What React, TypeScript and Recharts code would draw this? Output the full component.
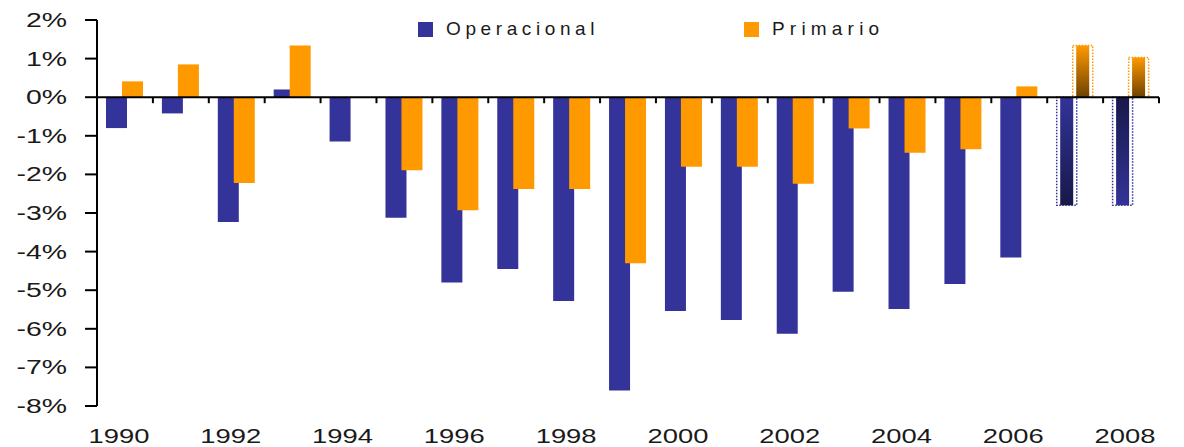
import { BarChart, Bar, XAxis, YAxis, ReferenceLine, Legend, Rectangle } from 'recharts';

const YEARS = ['1990', '1991', '1992', '1993', '1994', '1995', '1996', '1997', '1998', '1999', '2000', '2001', '2002', '2003', '2004', '2005', '2006', '2007', '2008'];
const OPERACIONAL = [-0.8, -0.42, -3.23, 0.2, -1.15, -3.12, -4.8, -4.45, -5.28, -7.6, -5.54, -5.77, -6.13, -5.04, -5.49, -4.84, -4.15, -2.8, -2.8];
const PRIMARIO = [0.41, 0.85, -2.22, 1.34, null, -1.89, -2.93, -2.38, -2.38, -4.3, -1.8, -1.8, -2.24, -0.81, -1.44, -1.35, 0.28, 1.34, 1.03];
const Y_TICKS = [2, 1, 0, -1, -2, -3, -4, -5, -6, -7, -8];
// 2007-2008 are projections, drawn with gradient + dotted outline
const PROJECTED = ['2007', '2008'];

const BLUE = '#333399';
const ORANGE = '#ff9900';
const FONT = '"Liberation Sans", Arial, sans-serif';

const data = YEARS.map((year, i) => ({ year, operacional: OPERACIONAL[i], primario: PRIMARIO[i] }));

function projectedShape(color: string, gradId: (year: string) => string) {
  return (props: any) => {
    const { x, y, width, height, payload } = props;
    if (!PROJECTED.includes(payload.year)) {
      return <Rectangle x={x} y={y} width={width} height={height} fill={color} />;
    }
    const top = height < 0 ? y + height : y;
    const h = Math.abs(height);
    return (
      <g>
        <rect x={x + 0.5} y={top} width={width - 1} height={h} fill="none" stroke={color} strokeWidth={1.5} strokeDasharray="1.5 1.5" />
        <rect x={x + 4} y={top} width={width - 8} height={h} fill={`url(#${gradId(payload.year)})`} />
      </g>
    );
  };
}

function ZeroAxis(props: any) {
  const { x1, x2, y1 } = props;
  const step = (x2 - x1) / YEARS.length;
  return (
    <g>
      <line x1={x1} x2={x2} y1={y1} y2={y1} stroke="#000" strokeWidth={2} />
      {YEARS.map((_, i) => (
        <line key={i} x1={x1 + step * (i + 1)} x2={x1 + step * (i + 1)} y1={y1} y2={y1 + 6} stroke="#000" strokeWidth={2} />
      ))}
    </g>
  );
}

function YTick(props: any) {
  const { x, y, payload } = props;
  return (
    <g transform={`translate(${x},${y}) scale(1.42,1)`}>
      <text x={0} y={0} dy={7} textAnchor="end" fontSize={20} fontFamily={FONT} fill="#1a1a1a">{`${payload.value}%`}</text>
    </g>
  );
}

function XTick(props: any) {
  const { x, y, payload } = props;
  return (
    <g transform={`translate(${x - 6},${y}) scale(1.37,1)`}>
      <text x={0} y={0} dy={29} textAnchor="middle" fontSize={20} fontFamily={FONT} fill="#1a1a1a">{payload.value}</text>
    </g>
  );
}

function LegendBox() {
  const item = (left: number, color: string, label: string, spacing: number) => (
    <div style={{ position: 'absolute', left, top: 0, display: 'flex', alignItems: 'center' }}>
      <span style={{ width: 15, height: 15, background: color, display: 'inline-block', marginRight: 13 }} />
      <span style={{ fontSize: 19, fontFamily: FONT, color: '#1a1a1a', letterSpacing: spacing }}>{label}</span>
    </div>
  );
  return (
    <div style={{ position: 'relative', height: 24 }}>
      {item(418, BLUE, 'Operacional', 4.6)}
      {item(744, ORANGE, 'Primario', 5.2)}
    </div>
  );
}

export default function App() {
  return (
    <div style={{ position: 'absolute', left: 0, top: 0, width: 1184, height: 447, background: '#fff' }}>
      <BarChart width={1184} height={447} data={data} margin={{ top: 20, right: 25, bottom: 6, left: 0 }} barSize={21} barGap={-5}>
        <defs>
          <linearGradient id="blue2007" x1="0" y1="0" x2="0" y2="1">
            <stop offset="0%" stopColor={BLUE} />
            <stop offset="100%" stopColor="#18184a" />
          </linearGradient>
          <linearGradient id="blue2008" x1="0" y1="0" x2="0" y2="1">
            <stop offset="0%" stopColor="#18184a" />
            <stop offset="100%" stopColor={BLUE} />
          </linearGradient>
          <linearGradient id="orange2007" x1="0" y1="0" x2="0" y2="1">
            <stop offset="0%" stopColor={ORANGE} />
            <stop offset="100%" stopColor="#6e4200" />
          </linearGradient>
          <linearGradient id="orange2008" x1="0" y1="0" x2="0" y2="1">
            <stop offset="0%" stopColor={ORANGE} />
            <stop offset="100%" stopColor="#6e4200" />
          </linearGradient>
        </defs>
        <XAxis dataKey="year" interval={1} axisLine={false} tickLine={false} height={35} tick={<XTick />} />
        <YAxis
          domain={[-8, 2]}
          ticks={Y_TICKS}
          width={97}
          tickSize={12}
          tickMargin={18}
          axisLine={{ stroke: '#000', strokeWidth: 2 }}
          tickLine={{ stroke: '#000', strokeWidth: 2 }}
          tick={<YTick />}
          interval={0}
        />
        <Legend verticalAlign="middle" align="center" layout="horizontal" wrapperStyle={{ top: 18, left: 0, width: 1184 }} content={<LegendBox />} />
        <Bar dataKey="operacional" name="Operacional" fill={BLUE} isAnimationActive={false} shape={projectedShape(BLUE, (y) => `blue${y}`)} />
        <Bar dataKey="primario" name="Primario" fill={ORANGE} isAnimationActive={false} shape={projectedShape(ORANGE, (y) => `orange${y}`)} />
        <ReferenceLine y={0} shape={<ZeroAxis />} />
      </BarChart>
    </div>
  );
}
